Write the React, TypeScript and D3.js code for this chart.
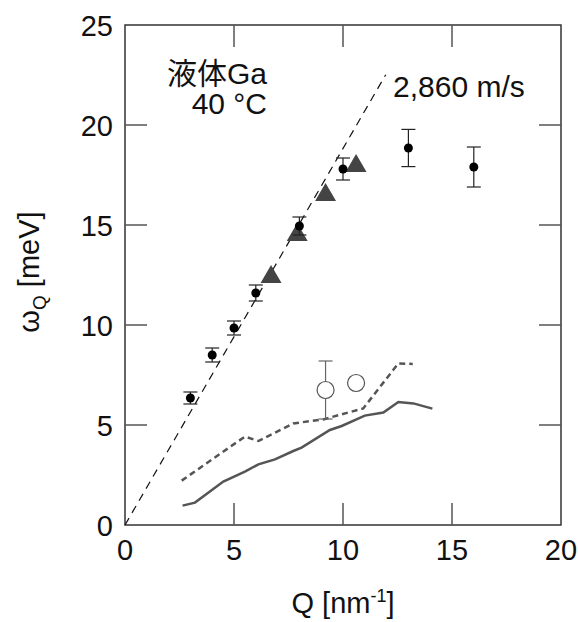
import React from "react";
import * as d3 from "d3";

const W = 578;
const H = 622;

// Filled circles with error bars (measured)
const measQ = [3.0, 4.0, 5.0, 6.0, 8.0, 10.0, 13.0, 16.0];
const measW = [6.35, 8.5, 9.85, 11.6, 14.95, 17.8, 18.85, 17.9];
const measErr = [0.3, 0.35, 0.35, 0.4, 0.45, 0.55, 0.93, 1.0];

// Triangles
const triQ = [6.7, 7.9, 9.2, 10.6];
const triW = [12.4, 14.5, 16.5, 17.95];

// Open circles
const openQ = [9.2, 10.6];
const openW = [6.75, 7.1];
const openErr = [1.45, 0];

// Solid gray line
const solidQ = [2.64, 3.21, 4.51, 5.5, 6.12, 6.88, 7.72, 8.1, 9.4, 9.94, 11.0, 11.85, 12.54, 13.23, 14.1];
const solidW = [0.97, 1.12, 2.17, 2.67, 3.03, 3.28, 3.7, 3.87, 4.75, 4.95, 5.47, 5.62, 6.15, 6.08, 5.82];

// Dotted gray line
const dotQ = [2.6, 5.5, 6.12, 7.72, 9.1, 10.93, 12.54, 13.2];
const dotW = [2.22, 4.42, 4.2, 5.08, 5.28, 5.83, 8.08, 8.05];

// Sound velocity line
const soundSpeed = 2860; // m/s
const hbar = 6.582e-16; // eV s
const soundQ = [0, 11.96];

const xTicks = [0, 5, 10, 15, 20];
const yTicks = [0, 5, 10, 15, 20, 25];

const FONT = "'Liberation Sans', Arial, Helvetica, 'Noto Sans CJK JP', sans-serif";

export default function App() {
  const left = 125, right = 561, top = 25, bottom = 525;
  const x = d3.scaleLinear().domain([0, 20]).range([left, right]);
  const y = d3.scaleLinear().domain([0, 25]).range([bottom, top]);
  const line = d3.line<[number, number]>().x(d => x(d[0])).y(d => y(d[1]));
  const slope = hbar * soundSpeed * 1e9 * 1000; // meV per nm^-1
  const tick = 22;
  const tri = d3.symbol().type(d3.symbolTriangle).size(190);
  const fs = 29;

  return (
    <svg width={W} height={H} style={{ position: "absolute", left: 0, top: 0, background: "#fff" }} fontFamily={FONT}>
      {/* frame */}
      <rect x={left} y={top} width={right - left} height={bottom - top} fill="none" stroke="#333" strokeWidth={1.5} />
      {/* ticks */}
      {xTicks.slice(1, -1).map(t => (
        <g key={"xt" + t} stroke="#555" strokeWidth={1.5}>
          <line x1={x(t)} x2={x(t)} y1={bottom} y2={bottom - tick} />
          <line x1={x(t)} x2={x(t)} y1={top} y2={top + tick} />
        </g>
      ))}
      {yTicks.slice(1, -1).map(t => (
        <g key={"yt" + t} stroke="#555" strokeWidth={1.5}>
          <line x1={left} x2={left + tick} y1={y(t)} y2={y(t)} />
          <line x1={right} x2={right - tick} y1={y(t)} y2={y(t)} />
        </g>
      ))}
      {/* tick labels */}
      {xTicks.map(t => (
        <text key={"xl" + t} x={x(t)} y={bottom + 35} textAnchor="middle" fontSize={fs} fill="#111">{t}</text>
      ))}
      {yTicks.map(t => (
        <text key={"yl" + t} x={left - 12} y={y(t) + 10.5} textAnchor="end" fontSize={fs} fill="#111">{t}</text>
      ))}
      {/* axis labels */}
      <text x={(left + right) / 2} y={613} textAnchor="middle" fontSize={fs} fill="#111">
        Q [nm<tspan dy={-11} fontSize={18}>-1</tspan><tspan dy={11}>]</tspan>
      </text>
      <text transform={`translate(39,${(top + bottom) / 2 - 3}) rotate(-90)`} textAnchor="middle" fontSize={fs} fill="#111">
        ω<tspan dy={7} fontSize={19}>Q</tspan><tspan dy={-7}> [meV]</tspan>
      </text>

      {/* sound line */}
      <path d={line(soundQ.map(q => [q, q * slope]) as [number, number][]) || ""} fill="none" stroke="#111" strokeWidth={1.2} strokeDasharray="8,6" />

      {/* gray lines */}
      <path d={line(solidQ.map((q, i) => [q, solidW[i]]) as [number, number][]) || ""} fill="none" stroke="#555" strokeWidth={2.5} />
      <path d={line(dotQ.map((q, i) => [q, dotW[i]]) as [number, number][]) || ""} fill="none" stroke="#555" strokeWidth={2.5} strokeDasharray="6,4" />

      {/* open circles */}
      {openQ.map((q, i) => (
        <g key={"o" + i}>
          {openErr[i] > 0 && (
            <g stroke="#666" strokeWidth={1.2}>
              <line x1={x(q)} x2={x(q)} y1={y(openW[i] - openErr[i])} y2={y(openW[i] + openErr[i])} />
              <line x1={x(q) - 7} x2={x(q) + 7} y1={y(openW[i] + openErr[i])} y2={y(openW[i] + openErr[i])} />
              <line x1={x(q) - 7} x2={x(q) + 7} y1={y(openW[i] - openErr[i])} y2={y(openW[i] - openErr[i])} />
            </g>
          )}
          <circle cx={x(q)} cy={y(openW[i])} r={8.5} fill="#fff" stroke="#555" strokeWidth={1.2} />
        </g>
      ))}

      {/* triangles */}
      {triQ.map((q, i) => (
        <path key={"t" + i} d={tri() || ""} transform={`translate(${x(q)},${y(triW[i])})`} fill="#444" />
      ))}

      {/* filled circles with error bars */}
      {measQ.map((q, i) => (
        <g key={"m" + i}>
          <g stroke="#222" strokeWidth={1.2}>
            <line x1={x(q)} x2={x(q)} y1={y(measW[i] - measErr[i])} y2={y(measW[i] + measErr[i])} />
            <line x1={x(q) - 7} x2={x(q) + 7} y1={y(measW[i] + measErr[i])} y2={y(measW[i] + measErr[i])} />
            <line x1={x(q) - 7} x2={x(q) + 7} y1={y(measW[i] - measErr[i])} y2={y(measW[i] - measErr[i])} />
          </g>
          <circle cx={x(q)} cy={y(measW[i])} r={4.5} fill="#000" />
        </g>
      ))}

      {/* annotations */}
      <text x={267} y={84} textAnchor="end" fontSize={30} fill="#111">液体Ga</text>
      <text x={267} y={114} textAnchor="end" fontSize={30} fill="#111">40 °C</text>
      <text x={393} y={97} textAnchor="start" fontSize={30} fill="#111">2,860 m/s</text>
    </svg>
  );
}
